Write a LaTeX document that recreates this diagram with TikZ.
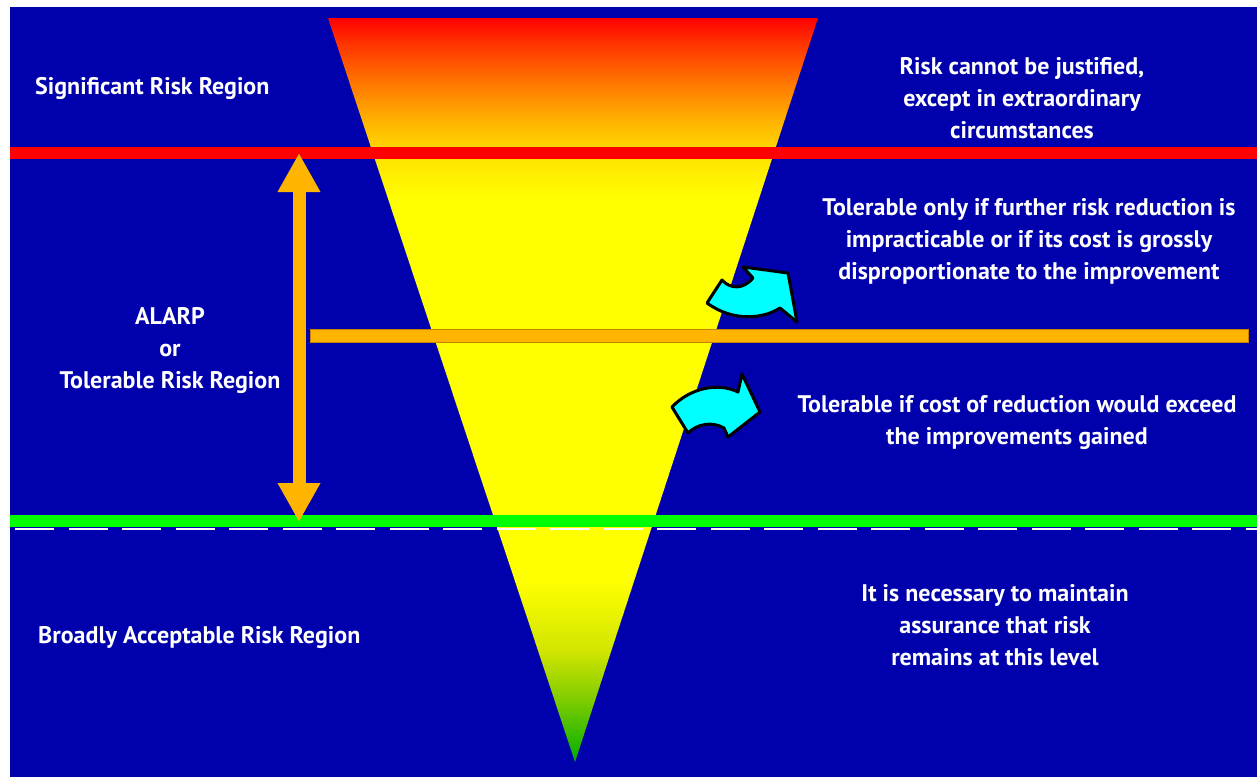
\documentclass[tikz,border=0pt]{standalone}
\usepackage{fontspec}
\setmainfont{PT Sans}
\usetikzlibrary{arrows.meta}

\definecolor{bgblue}{RGB}{0,0,172}
\definecolor{riskred}{RGB}{255,0,0}
\definecolor{alarporange}{RGB}{255,180,0}
\definecolor{alarpedge}{RGB}{200,130,0}
\definecolor{safegreen}{RGB}{0,255,0}
\definecolor{hintcyan}{RGB}{0,255,255}

% risk cone colouring, apex (bottom) to base (top); 25bp..75bp spans the cone
\pgfdeclareverticalshading{cone}{100bp}{%
  rgb(0bp)=(0,0.68,0); rgb(25bp)=(0,0.68,0); rgb(29.2bp)=(0.5,0.80,0);
  rgb(32.5bp)=(0.82,0.90,0); rgb(37.2bp)=(1,1,0);
  rgb(62.8bp)=(1,1,0); rgb(65.4bp)=(1,0.9,0); rgb(68.1bp)=(1,0.7,0);
  rgb(70.8bp)=(1,0.45,0); rgb(73.5bp)=(1,0.18,0);
  rgb(75bp)=(1,0,0); rgb(100bp)=(1,0,0)}

\tikzset{
  label/.style={text=white, font=\bfseries\fontsize{24}{32}\selectfont,
    inner sep=0pt, align=center},
  turnarrow/.style={fill=hintcyan, draw=black, line width=3pt, line join=round},
}

\begin{document}
\begin{tikzpicture}[x=1pt, y=-1pt]
  \useasboundingbox (0,0) rectangle (1257,777);
  \fill[white] (0,0) rectangle (1257,777);
  \fill[bgblue] (10,7) rectangle (1257,777);

  % risk cone
  \shade[shading=cone] (328,18) -- (818,18) -- (575,762) -- cycle;

  % region boundaries
  \fill[riskred] (10,147) rectangle (1257,159);
  \draw[white, line width=2pt, dash pattern=on 39pt off 14.5pt] (15,528.5) -- (1257,528.5);
  \fill[safegreen] (10,515) rectangle (1257,527);
  \draw[alarpedge, line width=0.8pt, fill=alarporange] (310,329.5) rectangle (1248,342.5);

  % ALARP extent
  \coordinate (alarpTop) at (299,153);
  \coordinate (alarpBot) at (299,522);
  \draw[alarporange, line width=13pt,
        {Triangle[length=39pt,width=40pt]}-{Triangle[length=39pt,width=40pt]}]
    (alarpTop) -- (alarpBot);

  % turning arrows
  \draw[turnarrow] (707,303) -- (722,280) .. controls (730,289) and (743,290) .. (753,278)
    -- (743,267) -- (788,273) -- (797,322) -- (780,308)
    .. controls (763,319) and (733,322) .. (707,303) -- cycle;
  \draw[turnarrow] (672,407) .. controls (690,388) and (718,382) .. (738,392)
    -- (742,374) -- (760,412) -- (728,437) -- (724,428)
    .. controls (712,421) and (697,424) .. (688,433) -- cycle;

  % labels
  \node[label, anchor=west] (sig) at (35,88) {Significant Risk Region};
  \node[label] (sigtxt) at (1022,98) {Risk cannot be justified,\\except in extraordinary\\circumstances};
  \node[label] (alarptxt) at (1029,241) {Tolerable only if further risk reduction is\\impracticable or if its cost is grossly\\disproportionate to the improvement};
  \node[label] (alarp) at (170,351) {ALARP\\or\\Tolerable Risk Region};
  \node[label] (toltxt) at (1017,423) {Tolerable if cost of reduction would exceed\\the improvements gained};
  \node[label, anchor=west] (broad) at (38,637) {Broadly Acceptable Risk Region};
  \node[label] (broadtxt) at (995,625) {It is necessary to maintain\\assurance that risk\\remains at this level};
\end{tikzpicture}
\end{document}
